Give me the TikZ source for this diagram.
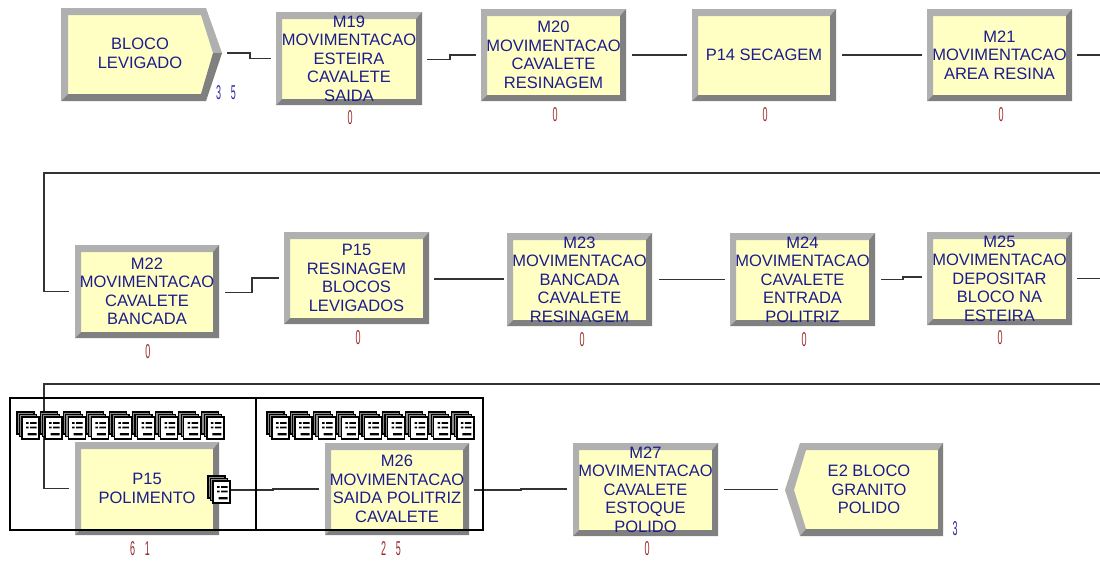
\documentclass[tikz,border=0pt]{standalone}
\usepackage{fontspec}
\usepackage{graphicx}
\setmainfont{Liberation Sans}
\definecolor{txtblue}{HTML}{1C1C8C}
\definecolor{cntred}{HTML}{9A2A2A}
\definecolor{cntblue}{HTML}{2A2AA0}
\definecolor{boxfill}{HTML}{FFFFC4}
\definecolor{bevL}{HTML}{B0B0B0}
\definecolor{bevD}{HTML}{808080}
\tikzset{
  x=1pt,y=-1pt,
  conn/.style={line width=1.2pt,draw=black!80},
  frameline/.style={line width=2.9pt,draw=black},
  boxlabel/.style={align=center,text=txtblue,font=\fontsize{16.5}{18.5}\selectfont,inner sep=0pt},
  cnt/.style={inner sep=0pt,font=\fontsize{20}{20}\selectfont},
  modbox/.style={inner sep=0pt,outer sep=0pt},
  pics/entity/.style={code={
    \path[draw=black,line width=1.2pt,fill=black!45] (0,0) rectangle ++(17,22);
    \path[draw=black,line width=1.2pt,fill=black!45] (2.5,2.5) rectangle ++(17,22);
    \path[draw=black,line width=1.4pt,fill=white] (5,5) rectangle ++(17,22);
    \path[fill=black] (9,10) rectangle ++(2.5,1.8) (13,10) rectangle ++(6.5,1.8)
      (9,14.5) rectangle ++(2.5,1.8) (13,14.5) rectangle ++(6.5,1.8)
      (10.5,21) rectangle ++(9,2.4);
  }}
}
% name, L, T, R, B, text
\newcommand{\modblock}[6]{%
  \path[fill=boxfill] (#2,#3) rectangle (#4,#5);
  \path[fill=bevL] (#2,#3) -- (#4,#3) -- (#4-6,#3+7) -- (#2+6,#3+7) -- (#2+6,#5-6) -- (#2,#5) -- cycle;
  \path[fill=bevD] (#4,#3) -- (#4,#5) -- (#2,#5) -- (#2+6,#5-6) -- (#4-6,#5-6) -- (#4-6,#3+7) -- cycle;
  \node[modbox,minimum width=#4-#2,minimum height=#5-#3,boxlabel] (#1) at ({(#2+#4)/2},{(#3+#5)/2}) {#6};
}
\newcommand{\cntnum}[1]{\scalebox{0.45}[1]{#1}}
\begin{document}
\begin{tikzpicture}
\useasboundingbox (0,0) rectangle (1100,560);
\clip (0,0) rectangle (1100,560);
\fill[white] (0,0) rectangle (1100,560);

% entry block
\path[fill=boxfill] (61,8) -- (206,8) -- (222,53) -- (206,101) -- (61,101) -- cycle;
\path[fill=bevL] (61,8) -- (206,8) -- (222,53) -- (213,53) -- (201,15) -- (68,15) -- (68,94) -- (61,101) -- cycle;
\path[fill=bevD] (222,53) -- (206,101) -- (61,101) -- (68,94) -- (201,94) -- (213,53) -- cycle;
\node[boxlabel,minimum width=145pt,minimum height=93pt] (blk) at (140,53.5) {BLOCO\\LEVIGADO};

\modblock{m19}{276}{12}{422}{105}{M19\\MOVIMENTACAO\\ESTEIRA\\CAVALETE\\SAIDA}
\modblock{m20}{481}{9}{626}{101}{M20\\MOVIMENTACAO\\CAVALETE\\RESINAGEM}
\modblock{p14}{692}{9}{836}{101}{P14 SECAGEM}
\modblock{m21}{927}{9}{1072}{101}{M21\\MOVIMENTACAO\\AREA RESINA}
\modblock{m22}{75}{245}{219}{338}{M22\\MOVIMENTACAO\\CAVALETE\\BANCADA}
\modblock{p15r}{284}{232}{429}{324}{P15\\RESINAGEM\\BLOCOS\\LEVIGADOS}
\modblock{m23}{507}{233}{652}{326}{M23\\MOVIMENTACAO\\BANCADA\\CAVALETE\\RESINAGEM}
\modblock{m24}{730}{233}{875}{326}{M24\\MOVIMENTACAO\\CAVALETE\\ENTRADA\\POLITRIZ}
\modblock{m25}{927}{232}{1072}{325}{M25\\MOVIMENTACAO\\DEPOSITAR\\BLOCO NA\\ESTEIRA}
\modblock{p15p}{75}{442}{219}{535}{P15\\POLIMENTO}
\modblock{m26}{325}{443}{469}{535}{M26\\MOVIMENTACAO\\SAIDA POLITRIZ\\CAVALETE}
\modblock{m27}{573}{443}{718}{536}{M27\\MOVIMENTACAO\\CAVALETE\\ESTOQUE\\POLIDO}

% exit block
\path[fill=boxfill] (943,443) -- (943,536) -- (800,536) -- (785,490) -- (800,443) -- cycle;
\path[fill=bevL] (943,443) -- (800,443) -- (785,490) -- (800,536) -- (806,529) -- (794,490) -- (806,450) -- (938,450) -- cycle;
\path[fill=bevD] (943,443) -- (943,536) -- (800,536) -- (806,529) -- (938,529) -- (938,450) -- cycle;
\node[boxlabel,minimum width=143pt,minimum height=93pt] (e2) at (869,489.5) {E2 BLOCO\\GRANITO\\POLIDO};

% counters
\node[cnt,text=cntblue] (c1) at (226,93) {\cntnum{3\hspace{22pt}5}};
\node[cnt,text=cntred] (c2) at (350,118) {\cntnum{0}};
\node[cnt,text=cntred] (c3) at (555,115) {\cntnum{0}};
\node[cnt,text=cntred] (c4) at (765,115) {\cntnum{0}};
\node[cnt,text=cntred] (c5) at (1001,115) {\cntnum{0}};
\node[cnt,text=cntred] (c6) at (148,352) {\cntnum{0}};
\node[cnt,text=cntred] (c7) at (358,338) {\cntnum{0}};
\node[cnt,text=cntred] (c8) at (582,340) {\cntnum{0}};
\node[cnt,text=cntred] (c9) at (804,340) {\cntnum{0}};
\node[cnt,text=cntred] (c10) at (1000,338) {\cntnum{0}};
\node[cnt,text=cntred] (c11) at (140,549) {\cntnum{6\hspace{22pt}1}};
\node[cnt,text=cntred] (c12) at (391,549) {\cntnum{2\hspace{22pt}5}};
\node[cnt,text=cntred] (c13) at (647,549) {\cntnum{0}};
\node[cnt,text=cntblue] (c14) at (955,529) {\cntnum{3}};

% connectors
\draw[conn] ([xshift=14.5pt,yshift=.5pt]blk.east) -- (250,53) -- (250,58.5) -- ([xshift=-5pt]m19.west);
\draw[conn] ([xshift=5pt,yshift=-1pt]m19.east) -- (450,59.5) -- (450,55) -- ([xshift=-5pt]m20.west);
\draw[conn] ([xshift=6pt]m20.east) -- ([xshift=-5pt]p14.west);
\draw[conn] ([xshift=6pt]p14.east) -- ([xshift=-5pt]m21.west);
\draw[conn] ([xshift=5pt]m21.east) -- (1110,55) -- (1110,173) -- (44,173) -- (44,291.5) -- ([xshift=-6pt]m22.west);
\draw[conn] ([xshift=6pt,yshift=-1pt]m22.east) -- (252,292.5) -- (252,278) -- ([xshift=-5pt]p15r.west);
\draw[conn] ([xshift=5pt,yshift=-1pt]p15r.east) -- ([xshift=-3pt,yshift=.5pt]m23.west);
\draw[conn] ([xshift=7pt]m23.east) -- ([xshift=-5pt]m24.west);
\draw[conn] ([xshift=6pt]m24.east) -- (903,279.5) -- (903,277) -- ([xshift=-5pt,yshift=1.5pt]m25.west);
\draw[conn] ([xshift=5pt]m25.east) -- (1110,278.5) -- (1110,384) -- (44,384) -- (44,488.5) -- ([xshift=-6pt]p15p.west);
\coordinate (qout) at (231,490);
\draw[conn] (qout) -- (273,490) -- (273,489) -- ([xshift=-6pt]m26.west);
\draw[conn] ([xshift=5pt,yshift=-1pt]m26.east) -- (521,490) -- (521,489) -- ([xshift=-6pt,yshift=.5pt]m27.west);
\draw[conn] ([xshift=6pt]m27.east) -- ([xshift=-19.5pt]e2.west);

% frames
\draw[frameline] (10,398) rectangle (256,530);
\draw[frameline] (256,398) rectangle (483,530);

% queue icons
\foreach \k in {0,...,8}{
  \pic at ({17+23.1*\k},412) {entity};
  \pic at ({267+23.1*\k},412) {entity};
}
\pic at (208,476) {entity};
\end{tikzpicture}
\end{document}
